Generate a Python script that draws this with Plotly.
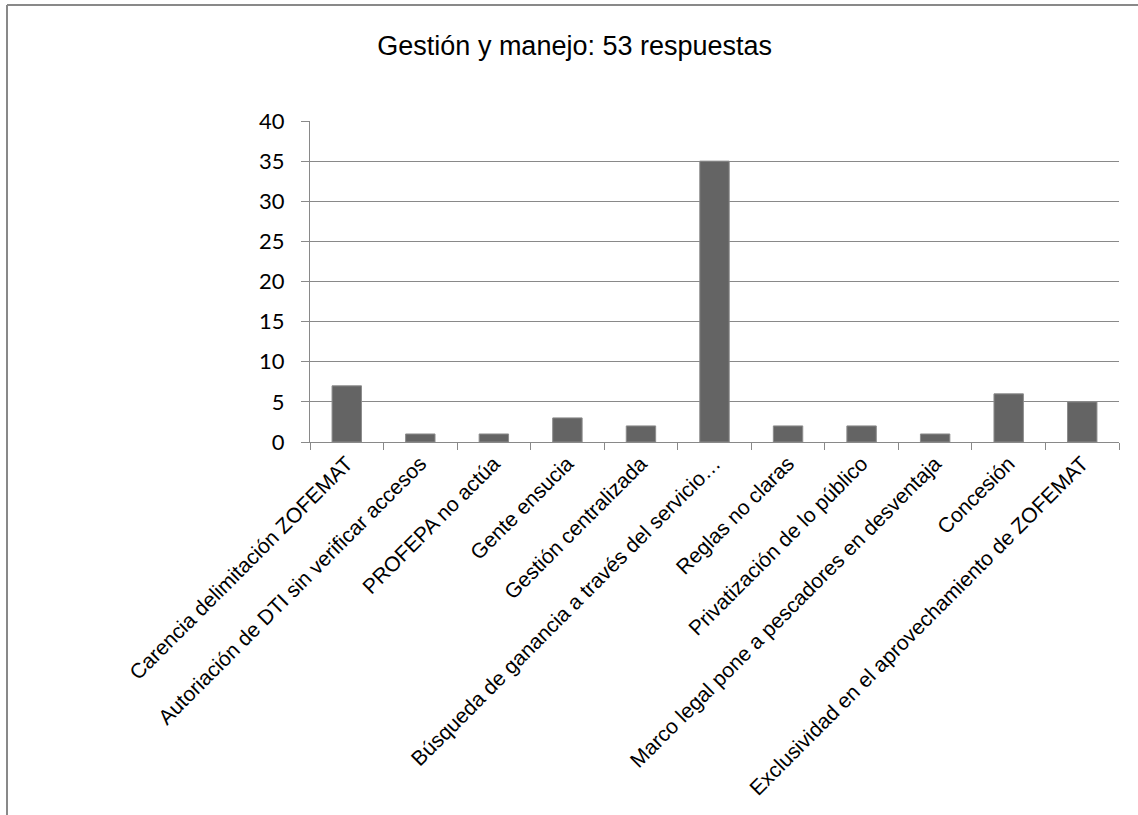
import plotly.graph_objects as go

categorias = [
    "Carencia delimitación ZOFEMAT",
    "Autoriación de DTI sin verificar accesos",
    "PROFEPA no actúa",
    "Gente ensucia",
    "Gestión centralizada",
    "Búsqueda de ganancia a través del servicio…",
    "Reglas no claras",
    "Privatización de lo público",
    "Marco legal pone a pescadores en desventaja",
    "Concesión",
    "Exclusividad en el aprovechamiento de ZOFEMAT",
]
respuestas = [7, 1, 1, 3, 2, 35, 2, 2, 1, 6, 5]
ticks_y = [0, 5, 10, 15, 20, 25, 30, 35, 40]
titulo = "Gestión y manejo: 53 respuestas"

gris = "#898989"

fig = go.Figure(
    go.Bar(
        x=categorias,
        y=respuestas,
        marker=dict(color="#646464", line=dict(color="#8c8c8c", width=1)),
    )
)

fig.update_layout(
    width=1138,
    height=815,
    margin=dict(l=310, r=19, t=121, b=373),
    paper_bgcolor="white",
    plot_bgcolor="white",
    bargap=0.6,
    showlegend=False,
    title=dict(
        text=titulo,
        x=0.505,
        xanchor="center",
        y=1 - 46 / 815,
        yanchor="middle",
        font=dict(family="Liberation Sans, Arial", size=27, color="black"),
    ),
    shapes=[
        dict(type="line", xref="paper", yref="paper",
             x0=-303 / 809, x1=-303 / 809, y0=1 + 116 / 321, y1=-373 / 321,
             line=dict(color=gris, width=2)),
        dict(type="line", xref="paper", yref="paper",
             x0=-303 / 809, x1=1 + 19 / 809, y0=1 + 116 / 321, y1=1 + 116 / 321,
             line=dict(color=gris, width=2)),
    ],
)

fig.update_xaxes(
    type="category",
    tickangle=-45,
    tickson="boundaries",
    ticks="outside",
    ticklen=7,
    tickcolor=gris,
    showline=True,
    linecolor=gris,
    linewidth=1,
    showgrid=False,
    tickfont=dict(family="Liberation Sans, Arial", size=21, color="black"),
)

fig.update_yaxes(
    range=[0, 40],
    tickvals=ticks_y,
    ticks="outside",
    ticklen=8,
    tickcolor=gris,
    showline=True,
    linecolor=gris,
    linewidth=1,
    showgrid=True,
    gridcolor=gris,
    gridwidth=1,
    zeroline=False,
    ticklabelstandoff=12,
    tickfont=dict(family="Lato, Carlito, Calibri", size=22, color="black"),
)

fig.write_html("out.html")
